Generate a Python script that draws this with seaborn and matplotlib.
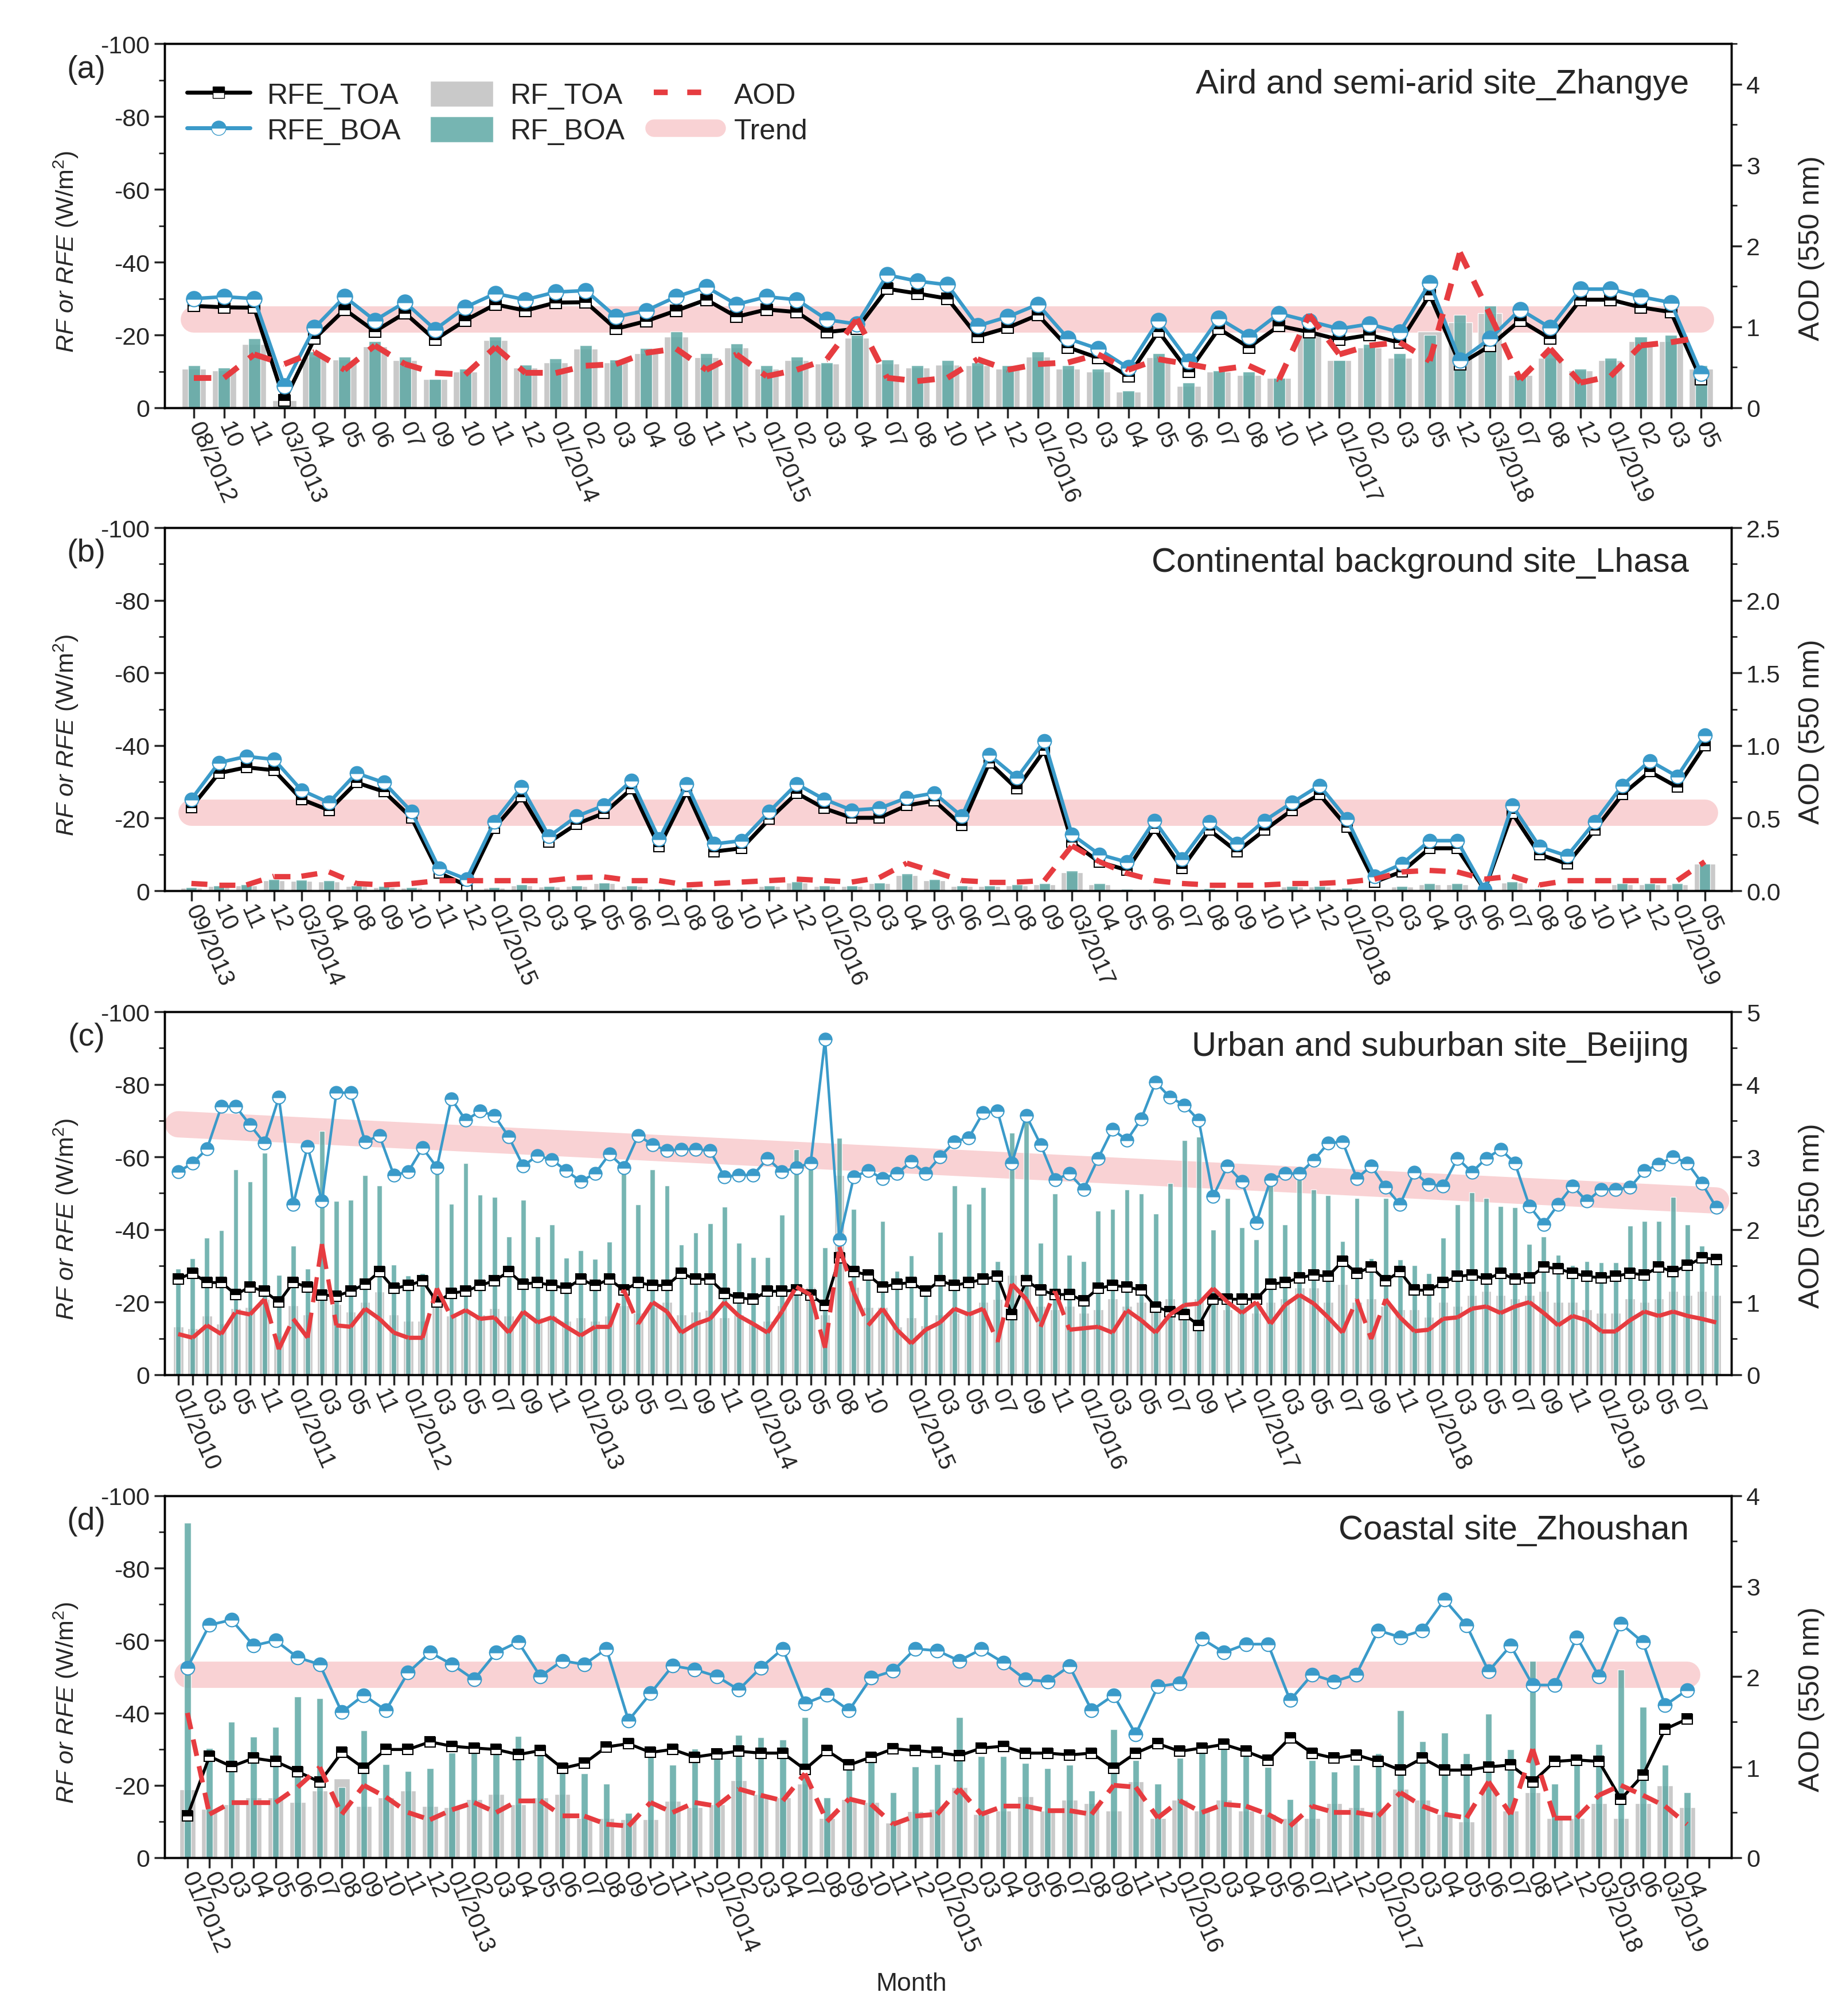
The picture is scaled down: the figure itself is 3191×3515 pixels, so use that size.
import numpy as np
import matplotlib
matplotlib.use("Agg")
import matplotlib.pyplot as plt
import seaborn as sns
from matplotlib.lines import Line2D
from matplotlib.patches import Patch
from matplotlib.collections import LineCollection
from matplotlib.ticker import MultipleLocator, FormatStrFormatter

# all RF / RFE values are magnitudes in W/m2 (the chart plots them as negative forcing)

# ---------------- (a) Zhangye ----------------
a_labels = ["08/2012", "10", "11", "03/2013", "04", "05", "06", "07", "09", "10", "11", "12",
            "01/2014", "02", "03", "04", "09", "11", "12", "01/2015", "02", "03", "04", "07",
            "08", "10", "11", "12", "01/2016", "02", "03", "04", "05", "06", "07", "08", "10",
            "11", "01/2017", "02", "03", "05", "12", "03/2018", "07", "08", "12", "01/2019",
            "02", "03", "05"]
a_rfe_toa = [28, 27.6, 27.5, 2, 19, 27, 21, 26, 18.7, 24, 28.4, 26.7, 28.9, 29, 21.7, 23.8, 26.7,
             29.7, 25, 27, 26.3, 20.8, 21.7, 32.7, 31.4, 30, 19.6, 22, 25.5, 16.6, 13.7, 8.6, 21,
             9.9, 21.7, 16.6, 22.5, 20.8, 18.7, 20, 17.9, 31, 12, 17, 24, 19, 29.7, 29.7, 27.6,
             26.3, 7.8]
a_rfe_boa = [30, 30.5, 30, 6, 22, 30.5, 24, 29, 21.5, 27.6, 31.4, 29.7, 31.8, 32.2, 25, 26.7, 30.5,
             33.2, 28.4, 30.5, 29.7, 24.2, 23, 36.5, 34.8, 33.8, 22.5, 25, 28.4, 19, 16.2, 11, 24,
             12.8, 24.6, 19.6, 25.9, 23.8, 21.7, 23, 20.8, 34.3, 13, 19, 27, 22, 32.6, 32.6, 30.5,
             28.9, 9.5]
a_rf_toa = [10.7, 10.3, 17.5, 2, 14, 13.2, 16.9, 13, 7.8, 9.9, 18.6, 11.1, 12.4, 16.2, 12.4, 14.9,
            19.6, 13.8, 16.6, 10.7, 13, 12.1, 19.2, 12.1, 11, 11.8, 11.6, 10.7, 14, 10.7, 9.9, 4.4,
            13.8, 6, 9.9, 9, 8.2, 20.4, 13, 16.6, 13.7, 21, 23.4, 26, 9, 13.7, 10.3, 13, 18.3,
            18.3, 10.7]
a_rf_boa = [11.6, 11, 19, 1.9, 15.4, 14, 18.3, 14, 7.8, 10.7, 19.6, 11.8, 13.5, 17.2, 13.2, 16.4,
            21, 14.9, 17.6, 11.6, 14, 12.4, 20, 13.2, 11.6, 13, 12.4, 11.6, 15.4, 11.6, 10.7, 4.8,
            14.9, 7, 10.3, 9.9, 8.2, 23, 13, 17.5, 14.9, 20, 25.5, 28, 9, 15.4, 10.7, 13.7, 19.6,
            20, 11.6]
a_aod = [0.37, 0.37, 0.66, 0.54, 0.69, 0.47, 0.77, 0.54, 0.43, 0.41, 0.75, 0.43, 0.43, 0.52, 0.54,
         0.68, 0.73, 0.47, 0.66, 0.39, 0.47, 0.6, 1.1, 0.37, 0.33, 0.37, 0.6, 0.47, 0.54, 0.56,
         0.66, 0.47, 0.6, 0.54, 0.47, 0.52, 0.35, 1.15, 0.66, 0.77, 0.81, 0.58, 1.92, 1.15, 0.35,
         0.73, 0.31, 0.39, 0.77, 0.81, 0.87]
a_trend = [24.2, 24.2]

# ---------------- (b) Lhasa ----------------
b_labels = ["09/2013", "10", "11", "12", "03/2014", "04", "08", "09", "10", "11", "12",
            "01/2015", "02", "03", "04", "05", "06", "07", "08", "09", "10", "11", "12",
            "01/2016", "02", "03", "04", "05", "06", "07", "08", "09", "03/2017", "04", "05",
            "06", "07", "08", "09", "10", "11", "12", "01/2018", "02", "03", "04", "05", "06",
            "07", "08", "09", "10", "11", "12", "01/2019", "05"]
b_rfe_toa = [23, 32.4, 34, 33.2, 25.2, 22.2, 29.8, 27.3, 20.1, 4.9, 1.5, 17.2, 26, 13.4, 18.4, 21.4,
             28.1, 12.1, 27.3, 10.8, 11.7, 19.7, 26.9, 22.7, 20.1, 20.1, 23.5, 24.8, 18, 35.3,
             28.1, 38.7, 13.4, 7.9, 5.7, 17.2, 6.2, 16.7, 10.8, 16.7, 22.2, 26.5, 17.6, 2.4, 5.3,
             11.7, 11.7, 0.3, 21.4, 10, 7.4, 16.7, 26.5, 32.8, 28.6, 40]
b_rfe_boa = [25.2, 35.3, 37, 36.2, 27.7, 24.3, 32.4, 29.8, 21.8, 6.2, 3.2, 18.9, 28.6, 15, 20.5,
             23.5, 30.4, 14.2, 29.4, 12.9, 13.8, 21.8, 29.4, 25.2, 22.2, 22.7, 25.6, 26.9, 20.5,
             37.4, 31.1, 41.3, 15.5, 10, 7.9, 19.3, 8.7, 18.9, 12.9, 19.3, 24.3, 29, 19.7, 4, 7.4,
             13.8, 13.8, 0.3, 23.5, 12.1, 9.6, 18.9, 29, 35.8, 31.5, 42.9]
b_rf_toa = [0.8, 1.2, 1.5, 2.8, 2.7, 2.5, 1.3, 1.0, 0.8, 0.3, 0.2, 0.8, 1.5, 1.1, 1.3, 2.0, 1.3,
            0.6, 0.6, 0.3, 0.4, 1.3, 2.2, 1.3, 1.3, 2.0, 4.2, 2.8, 1.3, 1.3, 1.4, 1.8, 5.0, 1.7,
            0.4, 0.4, 0.3, 0.5, 0.3, 0.3, 1.1, 1.1, 0.7, 0.3, 1.1, 1.7, 1.7, 0.1, 2.2, 0.6, 0.4,
            0.4, 1.7, 1.7, 1.7, 7.5]
b_rf_boa = [1.0, 1.5, 1.8, 3.2, 3.0, 2.8, 1.5, 1.2, 1.0, 0.3, 0.2, 1.0, 1.8, 1.3, 1.5, 2.2, 1.5,
            0.7, 0.8, 0.4, 0.5, 1.5, 2.5, 1.5, 1.5, 2.2, 4.7, 3.2, 1.5, 1.5, 1.7, 2.0, 5.5, 2.0,
            0.5, 0.5, 0.3, 0.6, 0.4, 0.4, 1.3, 1.3, 0.8, 0.3, 1.3, 2.0, 2.0, 0.1, 2.5, 0.7, 0.5,
            0.5, 2.0, 2.0, 2.0, 7.5]
b_aod = [0.05, 0.04, 0.04, 0.1, 0.1, 0.13, 0.05, 0.04, 0.05, 0.07, 0.07, 0.07, 0.07, 0.07, 0.09,
         0.095, 0.07, 0.07, 0.04, 0.05, 0.06, 0.07, 0.08, 0.07, 0.06, 0.09, 0.19, 0.13, 0.07, 0.06,
         0.06, 0.07, 0.31, 0.2, 0.12, 0.07, 0.05, 0.04, 0.04, 0.04, 0.05, 0.05, 0.06, 0.08, 0.13,
         0.14, 0.13, 0.08, 0.1, 0.04, 0.07, 0.07, 0.07, 0.07, 0.07, 0.2]
b_trend = [21.5, 21.5]

# ---------------- (c) Beijing ----------------
c_labels = ["01/2010", "", "03", "", "05", "", "11", "", "01/2011", "", "03", "", "05", "", "11", "",
            "01/2012", "", "03", "", "05", "", "07", "", "09", "", "11", "",
            "01/2013", "", "03", "", "05", "", "07", "", "09", "", "11", "",
            "01/2014", "", "03", "", "05", "", "08", "", "10", "", "",
            "01/2015", "", "03", "", "05", "", "07", "", "09", "", "11", "",
            "01/2016", "", "03", "", "05", "", "07", "", "09", "", "11", "",
            "01/2017", "", "03", "", "05", "", "07", "", "09", "", "11", "",
            "01/2018", "", "03", "", "05", "", "07", "", "09", "", "11", "",
            "01/2019", "", "03", "", "05", "", "07", "", ""]
c_rfe_toa = [26.4, 28, 25.4, 25.4, 22.1, 24.2, 23, 20, 25.4, 24.2, 22, 21.7, 23, 25, 28.4, 23.8,
             24.6, 25.9, 20, 22.5, 23, 24.6, 25.9, 28.4, 25, 25.4, 24.6, 23.8, 26.3, 24.6, 26.3,
             23.3, 25.4, 24.6, 24.6, 28, 26.3, 26.3, 22.5, 21.2, 20.8, 23, 23, 23.3, 22, 19.1,
             32.2, 28.4, 27.5, 24.2, 25, 25.4, 23, 25.9, 24.6, 25.4, 26.3, 27.1, 16.6, 25.9, 23.3,
             22.1, 22.1, 20.4, 23.8, 24.6, 24.2, 23.3, 18.7, 17.4, 16.6, 13.6, 20.8, 20.8, 20.8,
             20.8, 25, 25.4, 26.7, 27.5, 27.1, 31.3, 28, 29.7, 25.9, 28.4, 23.3, 23.3, 25.4, 27.1,
             27.5, 26.3, 28, 26.3, 26.7, 29.7, 29.2, 28, 27.1, 26.7, 27.1, 28, 27.5, 29.7, 28.4,
             30.1, 32.2, 31.8]
c_rfe_boa = [55.9, 58.3, 62.2, 73.9, 73.9, 68.8, 63.8, 76.4, 46.9, 62.9, 47.8, 77.7, 77.7, 64.2,
             65.9, 55, 55.9, 62.5, 57.1, 76, 70.1, 72.6, 71.4, 65.5, 57.5, 60.4, 59.2, 56.2, 53.3,
             55.4, 60.8, 57.1, 65.9, 63.4, 61.7, 62.1, 62.1, 61.7, 54.5, 55, 55, 59.6, 55.9, 57.1,
             58.3, 92.4, 37.2, 54.5, 56.2, 54.1, 55.4, 58.7, 55.4, 60, 64.2, 65.3, 72.2, 72.6,
             58.3, 71.4, 63.4, 53.7, 55.4, 51.1, 59.6, 67.6, 64.6, 70.5, 80.6, 76.4, 74.3, 70.1,
             49.1, 57.5, 53.2, 41.9, 53.7, 55.4, 55.4, 59.1, 63.8, 64.2, 54.1, 57.5, 51.6, 46.9,
             55.8, 52.4, 52, 59.6, 55.8, 59.6, 62.1, 58.3, 46.5, 41.4, 46.9, 52, 47.8, 51.1, 51.1,
             51.6, 56.2, 57.9, 60, 58.3, 52.8, 46.1]
c_rf_toa = [13.2, 12.8, 16.2, 14, 18.3, 18.7, 20.8, 10.7, 19.1, 16.6, 20.8, 19.5, 17.4, 20, 22.9,
            16.6, 14.9, 14.9, 20, 16.2, 17.9, 16.6, 18.3, 16.2, 15.8, 15.8, 16.2, 14.9, 15.8, 14.9,
            16.2, 19.1, 17, 18.7, 20, 16.6, 17.4, 17.9, 15.8, 16.6, 14, 14.9, 19.1, 24.2, 24.2,
            16.6, 55, 24.2, 18.7, 18.7, 13.2, 15.8, 13.6, 16.6, 17, 17, 20, 20.8, 27.5, 28, 19, 18,
            19, 17, 18, 21, 19, 20, 18, 21, 17, 21, 20, 18, 19, 17, 20, 21, 24, 24, 20, 25, 20, 21,
            19, 18, 18, 16, 20, 19, 22, 23, 22, 21, 22, 23, 20, 20, 18, 17, 17, 21, 20, 21, 23, 22,
            23, 22]
c_rf_boa = [29.2, 32, 37.7, 39.8, 56.6, 53.2, 61.2, 27.5, 35.5, 29.2, 67.1, 47.8, 48.2, 54.9, 52.1,
            30.3, 27.4, 28, 57, 47.1, 58.3, 49.6, 49, 38, 48.2, 38, 41.4, 32.2, 34.3, 31.9, 36.6,
            57.5, 46.9, 56.6, 52.1, 35.8, 39.1, 41.7, 46.3, 36.4, 32.4, 32.4, 44, 62.1, 58.7, 35.1,
            65.3, 45.7, 29, 42.3, 28.6, 32.8, 22, 39.3, 52.1, 47.1, 51.6, 31.3, 66.7, 71.4, 36.4,
            49.9, 33, 31.3, 45.2, 45.7, 51.1, 49.9, 44.4, 52.8, 64.6, 65.5, 40, 48.6, 40.6, 37.2,
            54.1, 41.4, 53.7, 51.1, 49.5, 36.8, 48.6, 32, 48.6, 31.8, 30.1, 28, 37.7, 46.9, 50.3,
            48.6, 46.5, 46.1, 36, 38.1, 33, 30.1, 31.3, 30.9, 30.9, 41, 42.3, 42.3, 49, 41.4, 35.5,
            30.9]
c_aod = [0.56, 0.51, 0.68, 0.56, 0.87, 0.83, 1.04, 0.35, 0.77, 0.51, 1.8, 0.68, 0.66, 0.91, 0.77,
         0.58, 0.51, 0.51, 1.19, 0.79, 0.89, 0.77, 0.79, 0.58, 0.87, 0.72, 0.79, 0.66, 0.54, 0.66,
         0.66, 1.17, 0.7, 1.0, 0.87, 0.58, 0.7, 0.77, 1.0, 0.81, 0.7, 0.58, 0.87, 1.21, 1.1, 0.37,
         1.76, 1.13, 0.68, 0.91, 0.62, 0.43, 0.62, 0.72, 0.91, 0.83, 0.91, 0.45, 1.25, 1.04, 0.66,
         1.15, 0.62, 0.64, 0.66, 0.58, 0.89, 0.75, 0.58, 0.83, 0.96, 0.98, 1.19, 1.0, 0.85, 1.0,
         0.7, 0.96, 1.1, 0.98, 0.79, 0.58, 1.04, 0.49, 1.04, 0.79, 0.6, 0.62, 0.77, 0.79, 0.91,
         0.94, 0.85, 0.94, 1.0, 0.85, 0.68, 0.81, 0.75, 0.6, 0.6, 0.75, 0.87, 0.81, 0.87, 0.81,
         0.77, 0.72]
c_trend = [69, 48]

# ---------------- (d) Zhoushan ----------------
d_labels = ["01/2012", "02", "03", "04", "05", "06", "07", "08", "09", "10", "11", "12",
            "01/2013", "02", "03", "04", "05", "06", "07", "08", "09", "10", "11", "12",
            "01/2014", "02", "03", "04", "07", "08", "09", "10", "11", "12",
            "01/2015", "02", "03", "04", "05", "06", "07", "08", "09", "11", "12",
            "01/2016", "02", "03", "04", "05", "06", "07", "11", "12",
            "01/2017", "02", "03", "04", "05", "06", "07", "08", "11", "12",
            "03/2018", "05", "06", "03/2019", "04"]
d_rfe_toa = [11.5, 28, 25.2, 27.5, 26.6, 23.8, 20.9, 29.1, 24.7, 29.9, 29.9, 32, 30.8, 30.3, 29.9,
             28.5, 29.6, 24.7, 26.1, 30.6, 31.5, 29.1, 29.9, 27.8, 28.7, 29.4, 28.9, 28.9, 24.4,
             29.6, 25.6, 27.8, 30.1, 29.6, 29.1, 28.2, 30.3, 30.8, 28.9, 28.9, 28.4, 28.9, 24.7,
             28.9, 31.5, 29.4, 30.3, 31.3, 29.4, 27, 33.1, 28.9, 27.5, 28.4, 26.6, 24.2, 27.5,
             24.2, 24.2, 25.1, 25.6, 20.9, 26.6, 27, 26.6, 16.2, 22.8, 35.5, 38.3]
d_rfe_boa = [52.5, 64.3, 65.7, 58.6, 60, 55.3, 53.4, 40.2, 44.9, 40.7, 51.1, 56.7, 53.4, 49.2, 56.7,
             59.6, 50.1, 54.4, 53.4, 57.7, 37.9, 45.4, 53, 52, 50.1, 46.4, 52.5, 57.7, 42.6, 45,
             40.7, 49.7, 51.6, 57.7, 57.2, 54.4, 57.6, 53.9, 49.2, 48.7, 52.9, 40.7, 44.9, 34.1,
             47.3, 48.2, 60.5, 56.7, 59, 59, 43.5, 50.6, 48.7, 50.6, 62.8, 60.9, 62.8, 71.3, 64.2,
             51.5, 58.6, 47.7, 47.7, 60.9, 50.1, 64.7, 59.5, 42.1, 46.3]
d_rf_toa = [18.8, 13.4, 14.8, 16.7, 16.7, 15.3, 18.6, 21.9, 14.3, 16.7, 18.6, 14.3, 13.9, 16.2, 17.6,
            14.8, 16.7, 17.6, 11, 11, 10.6, 10.6, 15.7, 13.9, 14.8, 21.4, 17.6, 16.7, 20.4, 11,
            16.2, 15.3, 9.6, 12.9, 13.4, 19.5, 12, 13, 17, 13, 16, 15, 13, 21, 11, 16, 13, 16, 13,
            12, 11, 11, 15, 14, 13, 19, 16, 12, 10, 19, 13, 18, 11, 11, 15, 11, 15, 20, 14]
d_rf_boa = [92.5, 30.3, 37.6, 33.5, 36.2, 44.5, 44, 19.5, 35.1, 25.9, 24, 24.7, 29, 30, 31, 33.6,
            28.5, 25.2, 23.3, 20.5, 12.4, 28, 25.6, 30.1, 28, 33.9, 33.2, 32.7, 38.8, 16.7, 27,
            28.9, 18.1, 25.2, 25.8, 38.8, 28, 28, 26.1, 24.7, 25.6, 18.5, 35.5, 27, 20.4, 27.5,
            29.8, 31.7, 28.9, 25.1, 16.2, 27, 23.7, 25.6, 28.9, 40.7, 32.2, 34.6, 28.9, 39.7,
            29.9, 54.3, 20.4, 26.6, 31.3, 52, 41.6, 25.6, 18.1]
d_aod = [1.6, 0.48, 0.61, 0.61, 0.61, 0.78, 1.0, 0.48, 0.8, 0.67, 0.5, 0.42, 0.53, 0.61, 0.5, 0.63,
         0.63, 0.46, 0.46, 0.37, 0.35, 0.61, 0.5, 0.61, 0.57, 0.76, 0.69, 0.63, 0.93, 0.4, 0.65,
         0.59, 0.37, 0.46, 0.48, 0.76, 0.48, 0.57, 0.57, 0.52, 0.52, 0.48, 0.8, 0.78, 0.44, 0.63,
         0.5, 0.59, 0.57, 0.48, 0.35, 0.57, 0.5, 0.5, 0.46, 0.72, 0.57, 0.48, 0.44, 0.84, 0.48,
         1.2, 0.44, 0.44, 0.69, 0.8, 0.69, 0.57, 0.37]
d_trend = [50.6, 50.6]

sns.set_theme(style="ticks")
plt.rcParams["font.family"] = ["Liberation Sans", "DejaVu Sans"]
plt.rcParams["axes.unicode_minus"] = False
plt.rcParams["mathtext.fontset"] = "custom"
plt.rcParams["mathtext.rm"] = "Liberation Sans"
plt.rcParams["mathtext.it"] = "Liberation Sans:italic"

BLUE = "#3a9ac9"
TEAL = "#5ea8a5"
GREY = "#c9c9c9"
RED = "#e63c40"
PINK = "#f7c4c6"

fig = plt.figure(figsize=(31.91, 35.16), dpi=100)


def panel(rect, labels, toa, boa, rf_toa, rf_boa, aod, trend, aod_top, aod_step, aod_fmt,
          title, letter, xpad, wide, narrow, lw, ms, aod_lw, dash, extra=0, title_y=0.905):
    ax = fig.add_axes(rect)
    n = len(toa)
    x = np.arange(n)

    # trend band, bars, then the two RFE lines
    ax.plot([0, n - 1], [-trend[0], -trend[1]], color=PINK, lw=33, alpha=0.75,
            solid_capstyle="round", zorder=0.5)
    ax.bar(x, -np.asarray(rf_toa), width=wide, color=GREY, zorder=1)
    ax.bar(x, -np.asarray(rf_boa), width=narrow, color=TEAL, alpha=0.85, zorder=2)
    sns.lineplot(x=x, y=-np.asarray(toa), ax=ax, color="black", linewidth=lw, marker="s",
                 markersize=ms * 0.78, fillstyle="top", markerfacecolor="black",
                 markerfacecoloralt="white", markeredgecolor="black", markeredgewidth=1.5,
                 errorbar=None, sort=False, zorder=4)
    sns.lineplot(x=x, y=-np.asarray(boa), ax=ax, color=BLUE, linewidth=lw * 0.9, marker="o",
                 markersize=ms, fillstyle="top", markerfacecolor=BLUE,
                 markerfacecoloralt="white", markeredgecolor=BLUE, markeredgewidth=1.5,
                 errorbar=None, sort=False, zorder=5)

    ax.set_xlim(-xpad[0], n - 1 + xpad[1])
    ax.set_ylim(0, -100)
    ax.set_xticks(np.arange(n + extra))
    ax.set_xticklabels(list(labels) + [""] * extra, rotation=-66, ha="left", va="center",
                       rotation_mode="anchor", fontsize=30)
    ax.set_yticks(np.arange(-100, 1, 20))
    ax.yaxis.set_minor_locator(MultipleLocator(10))
    ax.tick_params(axis="both", which="major", direction="out", length=13, width=2.5,
                   labelsize=31, pad=6, top=False, right=False)
    ax.tick_params(axis="x", labelsize=30)
    ax.tick_params(axis="y", which="minor", direction="out", length=7, width=2, left=True)
    for sp in ax.spines.values():
        sp.set_linewidth(2.5)
        sp.set_color("black")
    ax.set_ylabel(r"$\it{RF\ or\ RFE}$ (W/m$^2$)", fontsize=31)
    ax.yaxis.set_label_coords(-0.054, 0.43)
    ax.text(-0.05, 0.93, letter, transform=ax.transAxes, fontsize=40, ha="center", va="center")
    ax.text(0.973, title_y, title, transform=ax.transAxes, fontsize=43, ha="right", va="center")

    # AOD on the right axis; each segment starts its own dash pattern
    ax2 = ax.twinx()
    segs = [[(i, aod[i]), (i + 1, aod[i + 1])] for i in range(n - 1)]
    ax2.add_collection(LineCollection(segs, colors=RED, linewidths=aod_lw,
                                      linestyles=[(0, dash)], capstyle="butt", zorder=6))
    ax2.set_ylim(0, aod_top)
    ax2.yaxis.set_major_locator(MultipleLocator(aod_step))
    ax2.yaxis.set_minor_locator(MultipleLocator(aod_step / 2))
    ax2.yaxis.set_major_formatter(FormatStrFormatter(aod_fmt))
    ax2.tick_params(axis="y", which="major", direction="out", length=13, width=2.5, labelsize=31,
                    pad=6)
    ax2.tick_params(axis="y", which="minor", direction="out", length=7, width=2)
    for sp in ax2.spines.values():
        sp.set_linewidth(2.5)
        sp.set_color("black")
    ax2.set_ylabel("AOD (550 nm)", fontsize=36)
    ax2.yaxis.set_label_coords(1.043, 0.44)
    return ax, ax2


left, width = 0.090, 0.856
ax_a, ax2_a = panel([left, 0.7975, width, 0.1805], a_labels, a_rfe_toa, a_rfe_boa, a_rf_toa,
                    a_rf_boa, a_aod, a_trend, 4.5, 1, "%d", "Aird and semi-arid site_Zhangye",
                    "(a)", (0.97, 1.0), 0.8, 0.4, 5, 19, 7.3, (3, 2.4), title_y=0.89)
panel([left, 0.558, width, 0.18], b_labels, b_rfe_toa, b_rfe_boa, b_rf_toa, b_rf_boa, b_aod,
      b_trend, 2.5, 0.5, "%.1f", "Continental background site_Lhasa", "(b)", (0.97, 0.96),
      0.78, 0.4, 5, 17, 6.7, (3, 2.2))
panel([left, 0.318, width, 0.18], c_labels, c_rfe_toa, c_rfe_boa, c_rf_toa, c_rf_boa, c_aod,
      c_trend, 5, 1, "%d", "Urban and suburban site_Beijing", "(c)", (0.94, 1.04),
      0.7, 0.35, 3.6, 16, 5.3, (6, 2.5))
panel([left, 0.0785, width, 0.1795], d_labels, d_rfe_toa, d_rfe_boa, d_rf_toa, d_rf_boa, d_aod,
      d_trend, 4, 1, "%d", "Coastal site_Zhoushan", "(d)", (1.03, 2.0),
      0.72, 0.3, 3.8, 17, 6, (3.5, 2.2), extra=1)

handles = [
    Line2D([], [], color="black", lw=5, marker="s", ms=15, fillstyle="top",
           markerfacecolor="black", markerfacecoloralt="white", markeredgecolor="black"),
    Line2D([], [], color=BLUE, lw=5, marker="o", ms=18, fillstyle="top",
           markerfacecolor=BLUE, markerfacecoloralt="white", markeredgecolor=BLUE),
    Patch(facecolor=GREY),
    Patch(facecolor=TEAL, alpha=0.85),
    Line2D([], [], color=RED, lw=7, ls=(0, (2.5, 3.5))),
    Line2D([], [], color=PINK, lw=22, alpha=0.75, solid_capstyle="round"),
]
ax2_a.legend(handles, ["RFE_TOA", "RFE_BOA", "RF_TOA", "RF_BOA", "AOD", "Trend"], ncol=3,
             frameon=False, fontsize=36, loc="upper left", bbox_to_anchor=(0.007, 0.93),
             handlelength=2.2, handleheight=1.0, labelspacing=0.25, columnspacing=1.0,
             handletextpad=0.6, borderaxespad=0)

fig.text(0.498, 0.016, "Month", fontsize=32, ha="center", va="center")

fig.savefig("out.png", dpi=100)
